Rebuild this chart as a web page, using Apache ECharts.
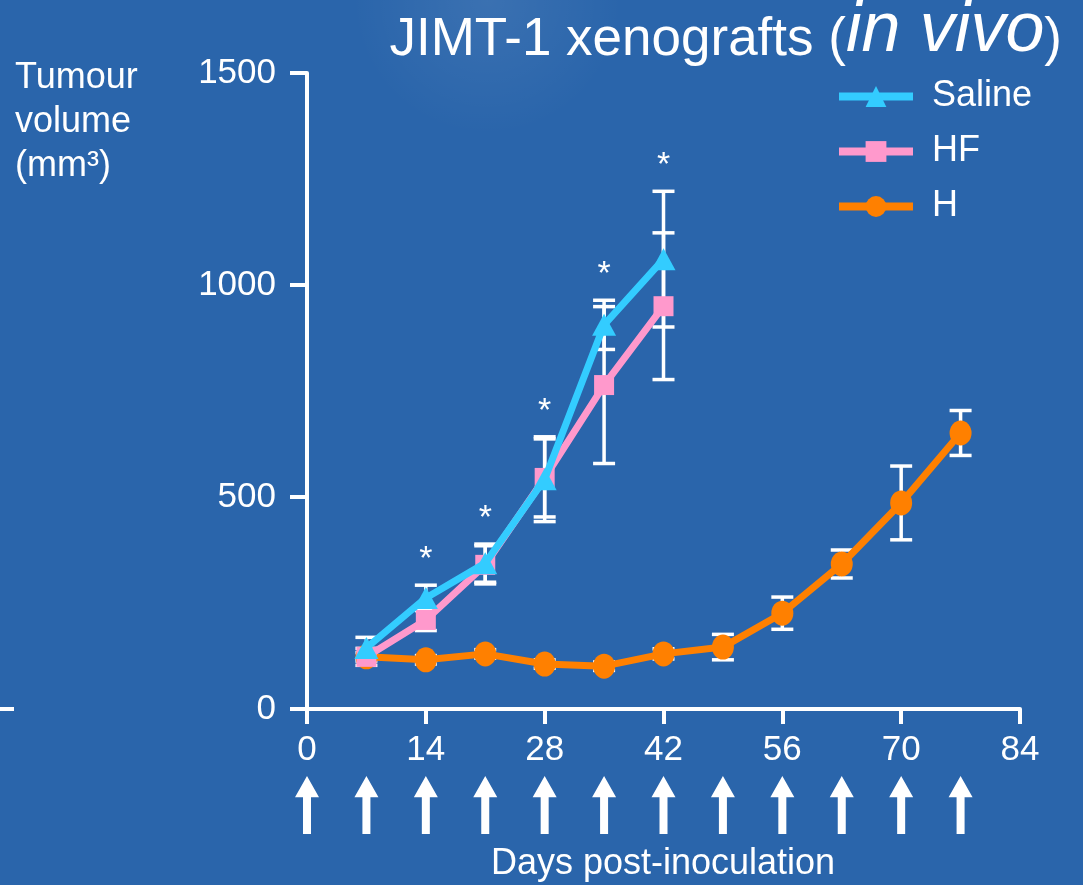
<!DOCTYPE html>
<html><head><meta charset="utf-8">
<script src="https://cdn.jsdelivr.net/npm/echarts@6/dist/echarts.min.js"></script>
<style>html,body{margin:0;padding:0;background:#2a65ab;}#c{width:1083px;height:885px;}</style>
</head><body><div id="c"></div>
<script>
const xTicks = [0, 14, 28, 42, 56, 70, 84];
const salineDays = [7, 14, 21, 28, 35, 42];
const salineMean = [144, 262, 344, 542, 906, 1061];
const salineErr  = [25, 30, 45, 100, 58, 160];
const hfDays = [7, 14, 21, 28, 35, 42];
const hfMean = [123, 210, 340, 545, 764, 950];
const hfErr  = [20, 25, 45, 92, 185, 173];
const hDays = [7, 14, 21, 28, 35, 42, 49, 56, 63, 70, 77];
const hMean = [123, 116, 130, 106, 101, 130, 146, 226, 342, 486, 651];
const hErr  = [10, 10, 10, 10, 10, 12, 30, 38, 33, 87, 53];
const starDays = [14, 21, 28, 35, 42];
const treatmentDays = [0, 7, 14, 21, 28, 35, 42, 49, 56, 63, 70, 77];

const C_SAL = '#33ccff', C_HF = '#ff99cc', C_H = '#ff8000';
const FONT = 'Liberation Sans, Arial, sans-serif';

function pts(days, vals){ return days.map((d,i)=>[d, vals[i]]); }
function errData(days, m, e){ return days.map((d,i)=>[d, m[i]-e[i], m[i]+e[i]]); }
function errSeries(days, m, e){
  return {
    type:'custom', xAxisIndex:0, yAxisIndex:0, z:1, silent:true,
    data: errData(days, m, e),
    renderItem: function(params, api){
      const x = api.value(0);
      const lo = api.coord([x, api.value(1)]);
      const hi = api.coord([x, api.value(2)]);
      const w = 11;
      const st = {stroke:'#ffffff', lineWidth:3.5};
      return {type:'group', children:[
        {type:'line', shape:{x1:lo[0], y1:lo[1], x2:hi[0], y2:hi[1]}, style:st},
        {type:'line', shape:{x1:lo[0]-w, y1:lo[1], x2:lo[0]+w, y2:lo[1]}, style:st},
        {type:'line', shape:{x1:hi[0]-w, y1:hi[1], x2:hi[0]+w, y2:hi[1]}, style:st}
      ]};
    }
  };
}
// asterisk positions: above the highest error-bar cap at each day
const starData = starDays.map(d=>{
  const i = salineDays.indexOf(d), j = hfDays.indexOf(d);
  const top = Math.max(salineMean[i]+salineErr[i], hfMean[j]+hfErr[j]);
  return [d, top + 60];
});

const chart = echarts.init(document.getElementById('c'));
chart.setOption({
  backgroundColor: '#2a65ab',
  animation: false,
  textStyle: {fontFamily: FONT},
  title: {
    right: 16, top: -4,
    text: '{a|JIMT-1 xenografts (}{b|in vivo}{a|)}',
    textStyle: {fontWeight:'normal', rich: {
      a: {fontSize: 53, color:'#fff', fontFamily: FONT, fontWeight:'normal', verticalAlign:'bottom', lineHeight:66},
      b: {fontSize: 70, color:'#fff', fontStyle:'italic', fontFamily: FONT, fontWeight:'normal', verticalAlign:'bottom', lineHeight:66}
    }}
  },
  legend: {
    orient:'vertical', left: 830, top: 73, itemGap: 18,
    itemWidth: 74, itemHeight: 26,
    data: ['Saline','HF','H'],
    lineStyle: {width: 8},
    textStyle: {color:'#fff', fontSize: 36, lineHeight: 37, fontFamily: FONT, padding:[0,0,0,14]}
  },
  graphic: [
    {type:'rect', left:0, top:0, z:-10, silent:true,
     shape:{width:1083, height:300},
     style:{fill:{type:'radial', x:0.45, y:0, r:0.45, colorStops:[
       {offset:0, color:'rgba(255,255,255,0.08)'},{offset:1, color:'rgba(255,255,255,0)'}]}}},
    {type:'text', left: 15, top: 56, style:{text:'Tumour\nvolume\n(mm³)', fill:'#fff', font:'36px '+FONT, lineHeight: 44}},
    {type:'text', x: 663, y: 864, style:{text:'Days post-inoculation', fill:'#fff', font:'36px '+FONT, textAlign:'center', textVerticalAlign:'middle'}},
    {type:'rect', left:0, top:707, shape:{width:14, height:4}, style:{fill:'#fff'}}
  ],
  grid: [
    {left: 307, right: 63, top: 73, bottom: 176},
    {left: 307, right: 63, top: 775, height: 60}
  ],
  xAxis: [
    {type:'value', gridIndex:0, min:0, max:84, interval:14,
     axisLine:{show:true, onZero:false, lineStyle:{color:'#fff', width:4}},
     axisTick:{show:true, length:15, lineStyle:{color:'#fff', width:4}},
     axisLabel:{color:'#fff', fontSize:35, margin:24, fontFamily: FONT},
     splitLine:{show:false}},
    {type:'value', gridIndex:1, min:0, max:84, show:false}
  ],
  yAxis: [
    {type:'value', gridIndex:0, min:0, max:1500, interval:500,
     axisLine:{show:true, lineStyle:{color:'#fff', width:4}},
     axisTick:{show:true, length:17, lineStyle:{color:'#fff', width:4}},
     axisLabel:{color:'#fff', fontSize:35, margin:31, fontFamily: FONT, formatter: v => String(v)},
     splitLine:{show:false}},
    {type:'value', gridIndex:1, min:0, max:1, show:false}
  ],
  series: [
    errSeries(hDays, hMean, hErr),
    errSeries(hfDays, hfMean, hfErr),
    errSeries(salineDays, salineMean, salineErr),
    {name:'H', type:'line', z:3, data: pts(hDays, hMean), symbol:'circle', symbolSize:[22,25],
     itemStyle:{color:C_H}, lineStyle:{color:C_H, width:7}},
    {name:'HF', type:'line', z:4, data: pts(hfDays, hfMean), symbol:'rect', symbolSize:20,
     itemStyle:{color:C_HF}, lineStyle:{color:C_HF, width:7}},
    {name:'Saline', type:'line', z:5, data: pts(salineDays, salineMean), symbol:'triangle', symbolSize:[24,22],
     itemStyle:{color:C_SAL}, lineStyle:{color:C_SAL, width:7}},
    {type:'scatter', z:6, silent:true, data: starData, symbolSize:0,
     itemStyle:{opacity:1},
     label:{show:true, formatter:'*', position:'inside', color:'#fff', fontSize:34, fontFamily: FONT}},
    {type:'scatter', xAxisIndex:1, yAxisIndex:1, silent:true,
     data: treatmentDays.map(d=>[d, 0.5]),
     symbol:'path://M12,0 L24,22 L16,22 L16,60 L8,60 L8,22 L0,22 Z',
     symbolSize:[24,58], itemStyle:{color:'#fff', opacity:1}}
  ]
});
</script></body></html>
